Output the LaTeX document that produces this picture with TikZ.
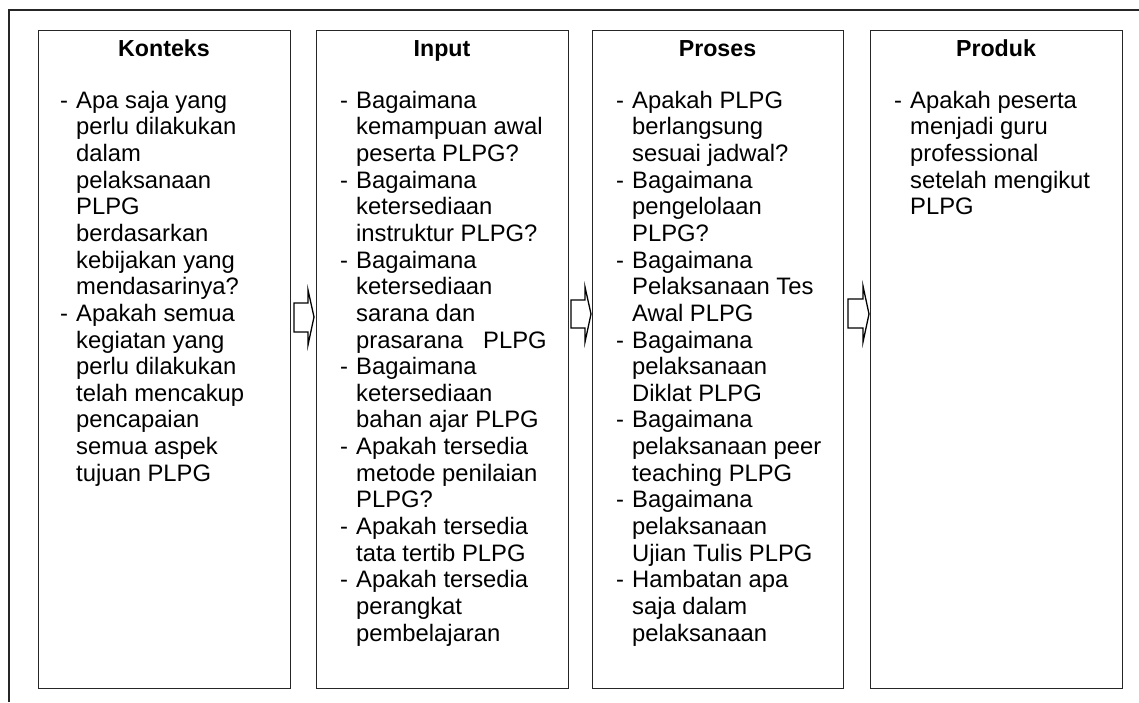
\documentclass[tikz,border=0pt]{standalone}
\usepackage{fontspec}
\setmainfont{Liberation Sans}
\newcommand\dsh{\makebox[16pt][l]{-}}
\newcommand\ind{\hspace*{16pt}}
\begin{document}
\begin{tikzpicture}[x=1pt,y=-1pt,
  frame/.style={line width=1.3pt, black!85},
  box/.style={draw=black!85, line width=1.4pt, minimum width=252pt, minimum height=658pt, anchor=north west, inner sep=0pt},
  ttl/.style={font=\fontsize{23.2}{26.65}\selectfont\bfseries, anchor=base, inner sep=0pt},
  txt/.style={font=\fontsize{23.8}{26.65}\selectfont, anchor=north west, inner sep=0pt, align=left},
  barrow/.style={draw=black, line width=1.3pt, line join=miter, fill=white}]
\useasboundingbox (0,0) rectangle (1139,702);
\draw[frame] (9,702) -- (9,10) -- (1139,10);

\node[box] (konteks) at (38,30) {};
\node[box] (input) at (316,30) {};
\node[box, minimum width=251pt] (proses) at (592,30) {};
\node[box] (produk) at (870,30) {};

\node[ttl] (t1) at (164,56) {Konteks};
\node[ttl] (t2) at (442,56) {Input};
\node[ttl] (t3) at (717.5,56) {Proses};
\node[ttl] (t4) at (996,56) {Produk};

\node[txt] (x1) at (60,89.3) {\strut\dsh Apa saja yang\\ \strut\ind perlu dilakukan\\ \strut\ind dalam\\ \strut\ind pelaksanaan\\ \strut\ind PLPG\\ \strut\ind berdasarkan\\ \strut\ind kebijakan yang\\ \strut\ind mendasarinya?\\ \strut\dsh Apakah semua\\ \strut\ind kegiatan yang\\ \strut\ind perlu dilakukan\\ \strut\ind telah mencakup\\ \strut\ind pencapaian\\ \strut\ind semua aspek\\ \strut\ind tujuan PLPG};

\node[txt] (x2) at (340,89.3) {\strut\dsh Bagaimana\\ \strut\ind kemampuan awal\\ \strut\ind peserta PLPG?\\ \strut\dsh Bagaimana\\ \strut\ind ketersediaan\\ \strut\ind instruktur PLPG?\\ \strut\dsh Bagaimana\\ \strut\ind ketersediaan\\ \strut\ind sarana dan\\ \strut\ind prasarana\ \ \ PLPG\\ \strut\dsh Bagaimana\\ \strut\ind ketersediaan\\ \strut\ind bahan ajar PLPG\\ \strut\dsh Apakah tersedia\\ \strut\ind metode penilaian\\ \strut\ind PLPG?\\ \strut\dsh Apakah tersedia\\ \strut\ind tata tertib PLPG\\ \strut\dsh Apakah tersedia\\ \strut\ind perangkat\\ \strut\ind pembelajaran};

\node[txt] (x3) at (616,89.3) {\strut\dsh Apakah PLPG\\ \strut\ind berlangsung\\ \strut\ind sesuai jadwal?\\ \strut\dsh Bagaimana\\ \strut\ind pengelolaan\\ \strut\ind PLPG?\\ \strut\dsh Bagaimana\\ \strut\ind Pelaksanaan Tes\\ \strut\ind Awal PLPG\\ \strut\dsh Bagaimana\\ \strut\ind pelaksanaan\\ \strut\ind Diklat PLPG\\ \strut\dsh Bagaimana\\ \strut\ind pelaksanaan peer\\ \strut\ind teaching PLPG\\ \strut\dsh Bagaimana\\ \strut\ind pelaksanaan\\ \strut\ind Ujian Tulis PLPG\\ \strut\dsh Hambatan apa\\ \strut\ind saja dalam\\ \strut\ind pelaksanaan};

\node[txt] (x4) at (894,89.3) {\strut\dsh Apakah peserta\\ \strut\ind menjadi guru\\ \strut\ind professional\\ \strut\ind setelah mengikut\\ \strut\ind PLPG};

% block arrows between boxes
\draw[barrow] (294,303) -- (308,303) -- (308,290) -- (314,317) -- (308,345) -- (308,332) -- (294,332) -- cycle;
\draw[barrow] (571,300) -- (585,300) -- (585,287) -- (591,314) -- (585,342) -- (585,328) -- (571,328) -- cycle;
\draw[barrow] (848,299) -- (863,299) -- (863,286) -- (869,314) -- (863,342) -- (863,328) -- (848,328) -- cycle;
\end{tikzpicture}
\end{document}
